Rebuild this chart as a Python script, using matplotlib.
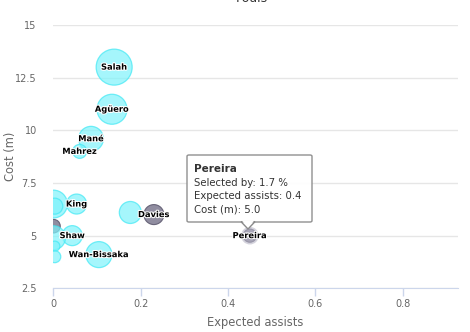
import numpy as np
import matplotlib.pyplot as plt
import matplotlib.patheffects as pe
from matplotlib.patches import FancyBboxPatch, Polygon

# -------- DATA --------
# series 1 (cyan bubbles)
cyan_names = ["Salah", "Agüero", "Mané", "Mahrez", "King", "", "", "", "Shaw", "", "", "", "Wan-Bissaka"]
cyan_assists = [0.139, 0.134, 0.086, 0.060, 0.053, 0.0, 0.003, 0.176, 0.043, 0.0, 0.003, 0.003, 0.104]
cyan_cost = [13.0, 11.0, 9.6, 9.0, 6.5, 6.5, 6.4, 6.1, 5.0, 4.9, 4.5, 4.0, 4.1]
cyan_selected = [50.0, 30.9, 18.0, 2.3, 9.2, 25.0, 4.1, 12.5, 9.2, 16.3, 0.3, 1.0, 20.7]

# series 2 (dark bubbles)
dark_names = ["", "Davies", "Pereira"]
dark_assists = [0.0, 0.23, 0.45]
dark_cost = [5.45, 6.0, 5.0]
dark_selected = [2.0, 9.2, 1.7]

x_ticks = [0, 0.2, 0.4, 0.6, 0.8]
y_ticks = [2.5, 5, 7.5, 10, 12.5, 15]
y_tick_labels = ["2.5", "5", "7.5", "10", "12.5", "15"]

tooltip_lines = ["Selected by: 1.7 %", "Expected assists: 0.4", "Cost (m): 5.0"]

# -------- BUBBLE SIZE --------
z_max = max(cyan_selected + dark_selected)


def bubble_size(vals):
    # radius in px grows with sqrt of value (area based), then to points^2
    r_px = 4 + 14 * np.sqrt(np.array(vals) / z_max)
    return (2 * r_px * 0.72) ** 2


# -------- PLOTTING --------
fig = plt.figure(figsize=(4.7, 3.32), dpi=100)
ax = fig.add_axes([0.1138, 0.1316, 0.86, 0.7931])

ax.scatter(dark_assists, dark_cost, s=bubble_size(dark_selected),
           facecolor="#7d7990", edgecolor="#5a566c", linewidth=0.8, alpha=0.85, zorder=2)
ax.scatter(cyan_assists, cyan_cost, s=bubble_size(cyan_selected),
           facecolor="#7ff3fb", edgecolor="#3fe8f4", linewidth=0.9, alpha=0.7, zorder=3)
# hovered point halo
ax.scatter([dark_assists[2]], [dark_cost[2]], s=bubble_size([dark_selected[2]]) * 1.8,
           facecolor="#b8b6c6", edgecolor="none", alpha=0.6, zorder=2)

outline = [pe.withStroke(linewidth=1.5, foreground="white")]
for n, xv, yv in list(zip(cyan_names, cyan_assists, cyan_cost)) + list(zip(dark_names, dark_assists, dark_cost)):
    if n:
        ax.text(xv, yv, n, ha="center", va="center", fontsize=6.0, fontweight="bold",
                color="black", path_effects=outline, zorder=5)

ax.set_xlim(0, 0.926)
ax.set_ylim(2.5, 15)
ax.set_xticks(x_ticks)
ax.set_xticklabels([str(t) for t in x_ticks])
ax.set_yticks(y_ticks)
ax.set_yticklabels(y_tick_labels)
ax.yaxis.grid(True, color="#e6e6e6", linewidth=1)
ax.set_axisbelow(True)
for s in ["top", "right", "left"]:
    ax.spines[s].set_visible(False)
ax.spines["bottom"].set_color("#ccd6eb")
ax.tick_params(axis="x", colors="#ccd6eb", length=6, width=1, labelcolor="#666666",
               labelsize=7, pad=2)
ax.tick_params(axis="y", length=0, labelcolor="#666666", labelsize=7, pad=12)
ax.set_xlabel("Expected assists", color="#666666", fontsize=8.3, labelpad=5)
ax.set_ylabel("Cost (m)", color="#666666", fontsize=8.3, va="center")
ax.yaxis.set_label_coords(-0.107, 0.5)

# chart title, mostly cut off at the top
fig.text(0.536, 1.0 - 1.5 / 332, "Fouls", ha="center", va="baseline", fontsize=9, color="#333333")

# -------- TOOLTIP --------
bx0, by0, bw, bh = 187 / 470, 1 - 222 / 332, 125 / 470, 67 / 332
box = FancyBboxPatch((bx0, by0), bw, bh, boxstyle="round,pad=0,rounding_size=0.004",
                     transform=fig.transFigure, facecolor="white", edgecolor="#8a8a8a",
                     linewidth=1, alpha=0.95, zorder=10)
fig.patches.append(box)
tip = Polygon([(241 / 470, by0 + 0.001), (255 / 470, by0 + 0.001), (248 / 470, 1 - 229 / 332)],
              closed=True, transform=fig.transFigure, facecolor="white", edgecolor="#8a8a8a",
              linewidth=1, zorder=10)
fig.patches.append(tip)
fig.patches.append(Polygon([(242 / 470, by0 + 0.003), (254 / 470, by0 + 0.003), (248 / 470, by0 - 0.012)],
                           closed=True, transform=fig.transFigure, facecolor="white",
                           edgecolor="none", zorder=11))
fig.text(194 / 470, 1 - 169.5 / 332, "Pereira", fontsize=7.5, fontweight="bold",
         color="#333333", va="center", zorder=12)
for i, line in enumerate(tooltip_lines):
    fig.text(194 / 470, 1 - (183 + 13.3 * i) / 332, line, fontsize=7.3,
             color="#333333", va="center", zorder=12)

fig.savefig("out.png", dpi=100)
